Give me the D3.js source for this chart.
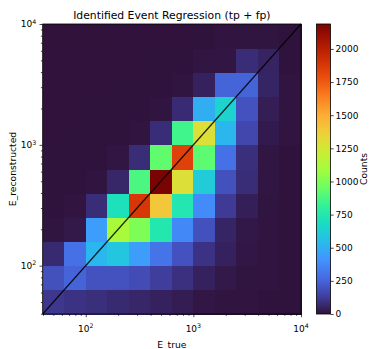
<!DOCTYPE html>
<html><head><meta charset="utf-8">
<script src="https://cdn.jsdelivr.net/npm/d3@7"></script>
<style>
body{margin:0;background:#fff}
text{font-family:"DejaVu Sans",sans-serif;fill:#000}
</style>
</head><body>
<svg id="chart" width="370" height="349"></svg>
<script>
// bin edges (shared by E_true and E_reconstructed axes)
const binEdges = [39.81, 63.10, 100, 158.49, 251.19, 398.11, 630.96, 1000, 1584.89, 2511.89, 3981.07, 6309.57, 10000];
// counts per E_reconstructed bin (bottom to top), across E_true bins (left to right)
const recoBin0  = [110, 95, 85, 70, 60, 45, 32, 15, 8, 5, 3, 2];
const recoBin1  = [190, 250, 195, 195, 175, 130, 90, 45, 20, 8, 5, 3];
const recoBin2  = [70, 290, 525, 590, 440, 305, 195, 95, 45, 15, 5, 3];
const recoBin3  = [8, 20, 440, 1110, 1000, 745, 370, 190, 55, 18, 6, 3];
const recoBin4  = [3, 6, 80, 710, 1880, 1400, 740, 380, 120, 40, 8, 3];
const recoBin5  = [2, 3, 8, 60, 880, 2188, 1290, 610, 190, 80, 10, 3];
const recoBin6  = [2, 2, 3, 10, 80, 930, 1840, 920, 290, 85, 10, 3];
const recoBin7  = [1, 2, 2, 3, 8, 80, 850, 1290, 530, 160, 25, 5];
const recoBin8  = [1, 1, 2, 2, 3, 8, 75, 500, 640, 195, 35, 5];
const recoBin9  = [1, 1, 1, 2, 2, 3, 8, 45, 250, 250, 55, 5];
const recoBin10 = [1, 1, 1, 1, 1, 2, 3, 10, 10, 80, 50, 3];
const recoBin11 = [0, 0, 0, 1, 1, 1, 1, 2, 5, 8, 8, 2];
const counts = [recoBin0, recoBin1, recoBin2, recoBin3, recoBin4, recoBin5, recoBin6, recoBin7, recoBin8, recoBin9, recoBin10, recoBin11];

const decadeTicks = [100, 1000, 10000];
const decadeExponents = ["2", "3", "4"];
const colorbarTicks = [0, 250, 500, 750, 1000, 1250, 1500, 1750, 2000];
const titleText = "Identified Event Regression (tp + fp)";
const xLabel = "E_true";
const yLabel = "E_reconstructed";
const cbLabel = "Counts";

// matplotlib "turbo" colormap samples (every 16th LUT entry)
const turboStops = [
  [0.18995,0.07176,0.23217],[0.25107,0.25237,0.63374],[0.27628,0.42118,0.89123],
  [0.25862,0.57958,0.99876],[0.15844,0.73551,0.92305],[0.09267,0.86554,0.76230],
  [0.19659,0.94901,0.59466],[0.42778,0.99419,0.38575],[0.64362,0.98999,0.23356],
  [0.80473,0.92452,0.20459],[0.93301,0.81236,0.22667],[0.99314,0.67408,0.20348],
  [0.98360,0.49291,0.12849],[0.92105,0.31489,0.05475],[0.81608,0.18462,0.01809],
  [0.66449,0.08436,0.00424],[0.47960,0.01583,0.01055]
].map(c => d3.rgb(c[0]*255, c[1]*255, c[2]*255).toString());

const svg = d3.select("#chart");
const P = {left: 42.7, right: 301, top: 24, bottom: 314};
const CB = {left: 316.5, right: 330.5};

const x = d3.scaleLog().domain([binEdges[0], binEdges[binEdges.length-1]]).range([P.left, P.right]);
const y = d3.scaleLog().domain([binEdges[0], binEdges[binEdges.length-1]]).range([P.bottom, P.top]);
const vmax = d3.max(counts.flat());
const turbo = d3.piecewise(d3.interpolateRgb, turboStops);
const color = d3.scaleSequential(turbo).domain([0, vmax]);

// cells
const cells = [];
counts.forEach((row, r) => row.forEach((v, c) => cells.push({r, c, v})));
const lo = binEdges[0], hi = binEdges[binEdges.length-1];
svg.append("rect").attr("x", x(lo)).attr("y", y(hi))
  .attr("width", x(hi) - x(lo)).attr("height", y(lo) - y(hi))
  .attr("fill", color(d3.min(counts.flat())));
svg.append("g").attr("shape-rendering", "crispEdges")
  .selectAll("rect").data(cells).join("rect")
  .attr("x", d => x(binEdges[d.c]))
  .attr("y", d => y(binEdges[d.r+1]))
  .attr("width", d => x(binEdges[d.c+1]) - x(binEdges[d.c]) + 0.6)
  .attr("height", d => y(binEdges[d.r]) - y(binEdges[d.r+1]) + 0.6)
  .attr("fill", d => color(d.v));

// diagonal y = x
svg.append("line")
  .attr("x1", x(lo)).attr("y1", y(lo)).attr("x2", x(hi)).attr("y2", y(hi))
  .attr("stroke", "#000").attr("stroke-width", 1.2).attr("stroke-opacity", 0.85);

// axes
const minorX = x.ticks().filter(v => !decadeTicks.includes(v) && v >= lo && v <= hi);
const minorY = y.ticks().filter(v => !decadeTicks.includes(v) && v >= lo && v <= hi);

const gx = svg.append("g").attr("transform", `translate(0,${P.bottom})`);
gx.call(d3.axisBottom(x).tickValues(decadeTicks).tickSize(3.2).tickFormat(""));
gx.append("g").call(d3.axisBottom(x).tickValues(minorX).tickSize(1.8).tickFormat(""));
const gy = svg.append("g").attr("transform", `translate(${P.left},0)`);
gy.call(d3.axisLeft(y).tickValues(decadeTicks).tickSize(3.2).tickFormat(""));
gy.append("g").call(d3.axisLeft(y).tickValues(minorY).tickSize(1.8).tickFormat(""));
svg.selectAll(".domain").remove();
svg.selectAll(".tick line").attr("stroke", "#000").attr("stroke-width", 0.7);

// tick labels with superscripts
decadeTicks.forEach((v, i) => {
  const t = svg.append("text").attr("x", x(v)).attr("y", 332).attr("text-anchor", "middle").attr("font-size", 9);
  t.append("tspan").text("10");
  t.append("tspan").attr("dy", -3.6).attr("font-size", 6.3).text(decadeExponents[i]);
  const ty = svg.append("text").attr("x", 36.3).attr("y", y(v) + 3.3).attr("text-anchor", "end").attr("font-size", 9);
  ty.append("tspan").text("10");
  ty.append("tspan").attr("dy", -3.6).attr("font-size", 6.3).text(decadeExponents[i]);
});

// frame
svg.append("rect").attr("x", P.left).attr("y", P.top)
  .attr("width", P.right - P.left).attr("height", P.bottom - P.top)
  .attr("fill", "none").attr("stroke", "#000").attr("stroke-width", 0.8);

// title and labels
svg.append("text").attr("x", (P.left + P.right)/2).attr("y", 18.5).attr("text-anchor", "middle")
  .attr("font-size", 10.8).text(titleText);
svg.append("text").attr("x", (P.left + P.right)/2).attr("y", 347.5).attr("text-anchor", "middle")
  .attr("font-size", 9.2).text(xLabel);
svg.append("text").attr("transform", `translate(15.5,${(P.top+P.bottom)/2}) rotate(-90)`)
  .attr("text-anchor", "middle").attr("font-size", 9.2).text(yLabel);

// colorbar
const cy = d3.scaleLinear().domain([0, vmax]).range([P.bottom, P.top]);
const defs = svg.append("defs");
const grad = defs.append("linearGradient").attr("id", "cbgrad")
  .attr("x1", 0).attr("y1", 1).attr("x2", 0).attr("y2", 0);
turboStops.forEach((c, i) => grad.append("stop")
  .attr("offset", i/(turboStops.length-1)).attr("stop-color", c));
svg.append("rect").attr("x", CB.left).attr("y", P.top)
  .attr("width", CB.right - CB.left).attr("height", P.bottom - P.top)
  .attr("fill", "url(#cbgrad)").attr("stroke", "#000").attr("stroke-width", 0.8);
const gcb = svg.append("g").attr("transform", `translate(${CB.right},0)`);
gcb.call(d3.axisRight(cy).tickValues(colorbarTicks).tickSize(3.2).tickPadding(1.8).tickFormat(d3.format("d")));
gcb.select(".domain").remove();
gcb.selectAll(".tick line").attr("stroke", "#000").attr("stroke-width", 0.7);
gcb.selectAll(".tick text").attr("font-size", 9).attr("font-family", "DejaVu Sans, sans-serif").attr("fill", "#000");
svg.append("text").attr("transform", `translate(367,${(P.top+P.bottom)/2}) rotate(-90)`)
  .attr("text-anchor", "middle").attr("font-size", 9.2).text(cbLabel);
</script>
</body></html>
